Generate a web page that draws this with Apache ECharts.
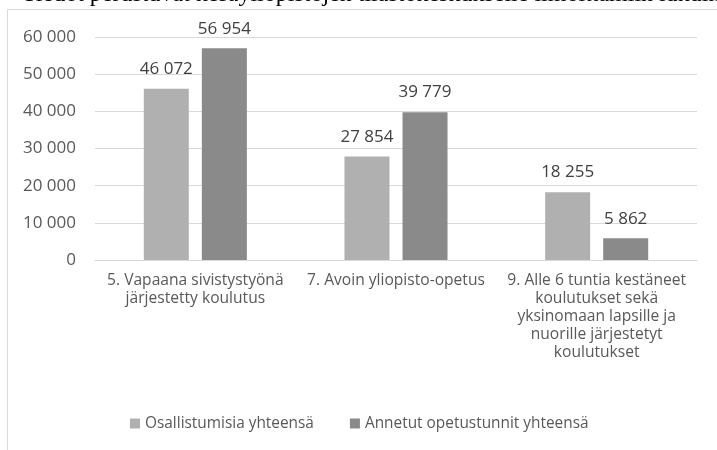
<!DOCTYPE html>
<html>
<head>
<meta charset="utf-8">
<title>Kesäyliopistot</title>
<script src="https://cdn.jsdelivr.net/npm/echarts@6/dist/echarts.min.js"></script>
<style>
  body { margin: 0; background: #fff; }
  #main { width: 717px; height: 450px; }
</style>
</head>
<body>
<div id="main"></div>
<script>
  var categories = [
    '5. Vapaana sivistystyönä\njärjestetty koulutus',
    '7. Avoin yliopisto-opetus',
    '9. Alle 6 tuntia kestäneet\nkoulutukset sekä\nyksinomaan lapsille ja\nnuorille järjestetyt\nkoulutukset'
  ];
  var osallistumisia = [46072, 27854, 18255];
  var opetustunnit = [56954, 39779, 5862];
  var seriesNames = ['Osallistumisia yhteensä', 'Annetut opetustunnit yhteensä'];
  var yTicks = { min: 0, max: 60000, interval: 10000 };

  var font = 'Open Sans';
  function fmt(v) {
    return String(v).replace(/\B(?=(\d{3})+(?!\d))/g, ' ');
  }

  var myChart = echarts.init(document.getElementById('main'));
  var option = {
    animation: false,
    textStyle: { fontFamily: font },
    graphic: [
      {
        type: 'text',
        x: 22, y: 7,
        style: {
          text: 'Tiedot perustuvat kesäyliopistojen tilastokeskukselle ilmoittamiin lukuihin',
          font: '24px "Liberation Serif"',
          fill: '#000',
          verticalAlign: 'bottom'
        },
        silent: true
      },
      {
        type: 'rect',
        shape: { x: 7.5, y: 9.5, width: 800, height: 500 },
        style: { fill: 'none', stroke: '#d9d9d9', lineWidth: 1 },
        silent: true
      }
    ],
    grid: { left: 95, right: 20, top: 37, bottom: 190 },
    legend: {
      left: 125, top: 411,
      itemWidth: 10, itemHeight: 10, itemGap: 36,
      icon: 'rect',
      textStyle: { color: '#595959', fontSize: 15.4, fontFamily: font },
      data: seriesNames
    },
    xAxis: {
      type: 'category',
      data: categories,
      axisLine: { lineStyle: { color: '#d9d9d9' } },
      axisTick: { show: false },
      axisLabel: {
        color: '#595959', fontSize: 15.6, lineHeight: 18, margin: 12,
        interval: 0, align: 'center'
      }
    },
    yAxis: {
      type: 'value',
      min: yTicks.min, max: yTicks.max, interval: yTicks.interval,
      axisLine: { show: false },
      axisTick: { show: false },
      splitLine: { lineStyle: { color: '#d9d9d9' } },
      axisLabel: { color: '#595959', fontSize: 17, margin: 19, formatter: fmt }
    },
    series: [
      {
        name: seriesNames[0], type: 'bar', data: osallistumisia,
        barWidth: 45, barGap: '29%',
        itemStyle: { color: '#b0b0b0' },
        label: { show: true, position: 'top', distance: 11, color: '#404040', fontSize: 17,
          formatter: function (p) { return fmt(p.value); } }
      },
      {
        name: seriesNames[1], type: 'bar', data: opetustunnit,
        barWidth: 45,
        itemStyle: { color: '#8a8a8a' },
        label: { show: true, position: 'top', distance: 11, color: '#404040', fontSize: 17,
          formatter: function (p) { return fmt(p.value); } }
      }
    ]
  };
  myChart.setOption(option);
</script>
</body>
</html>
